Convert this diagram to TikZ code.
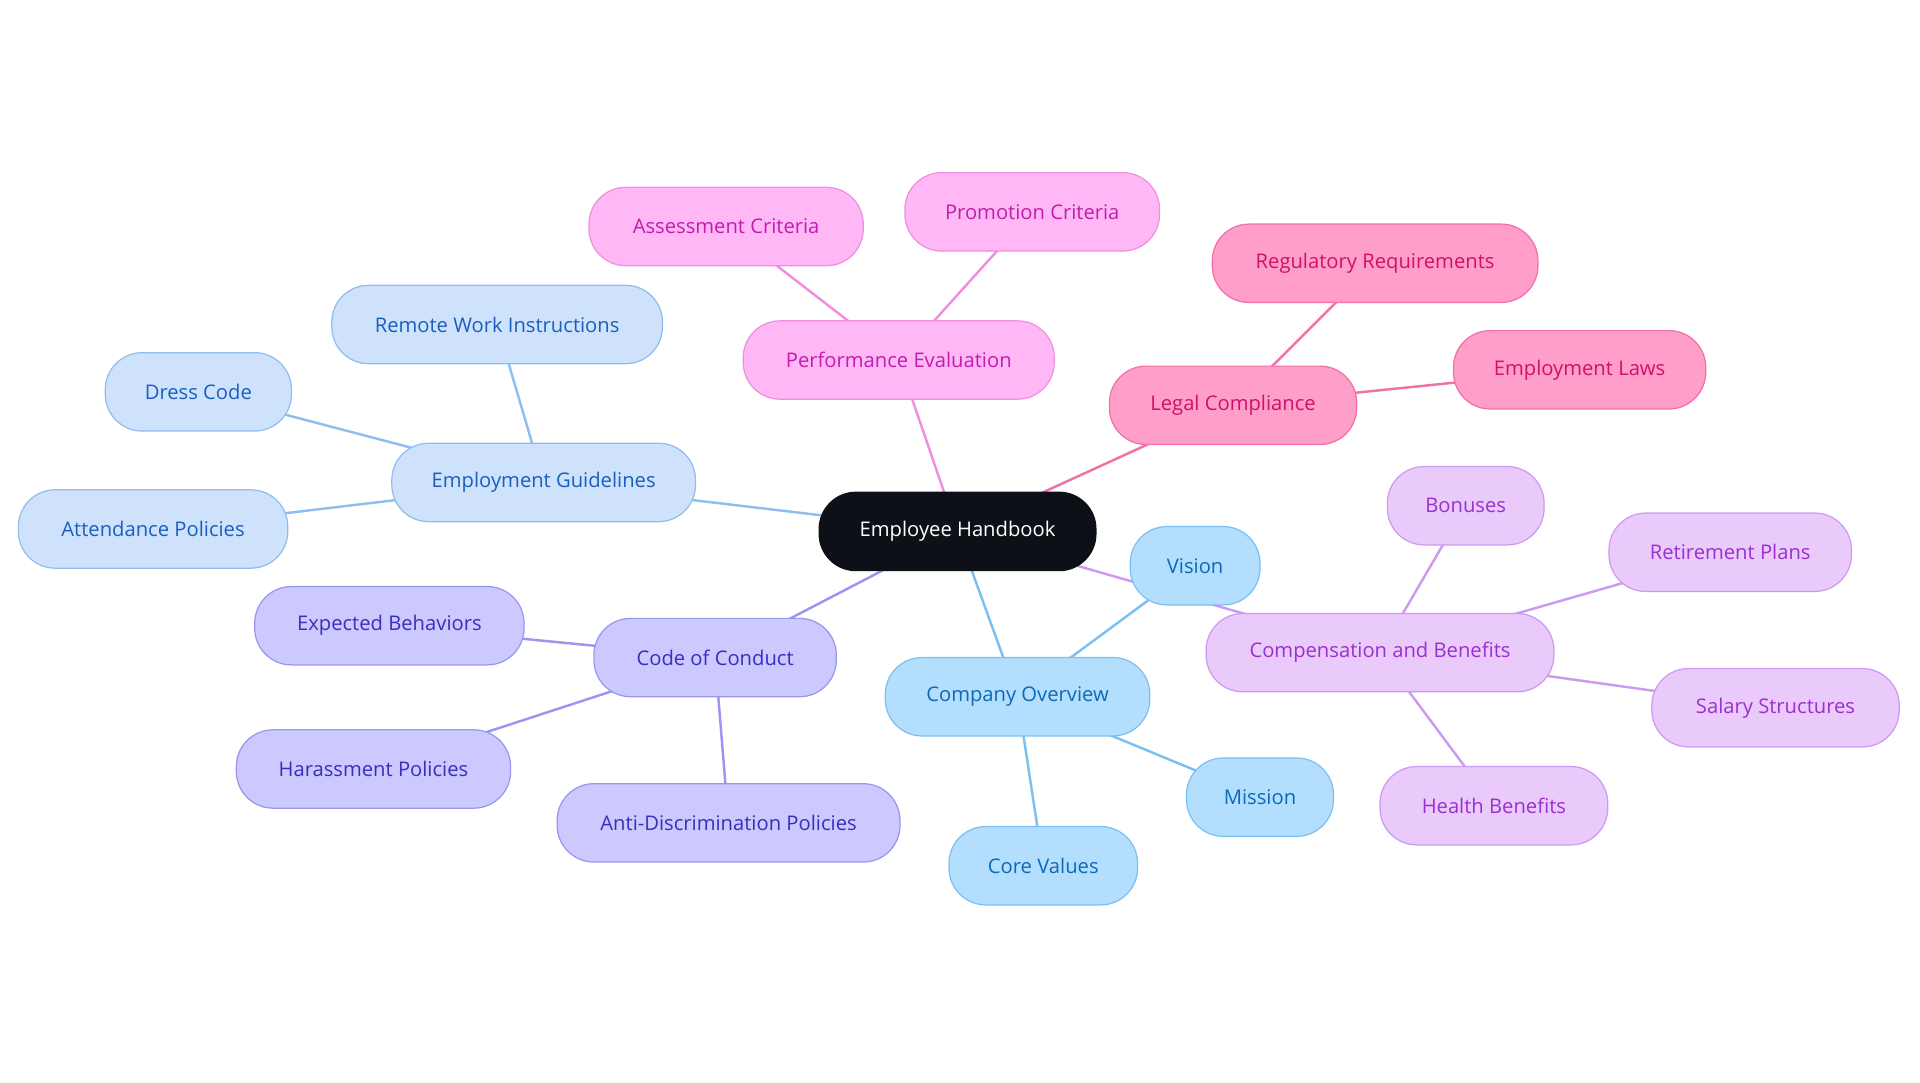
\documentclass[tikz,border=0pt]{standalone}
\usepackage{fontspec}
\setmainfont{Open Sans}
\usetikzlibrary{backgrounds}
\definecolor{rootc}{HTML}{0D1117}
\definecolor{bF}{HTML}{CFE2FB}\definecolor{bD}{HTML}{90BDF0}\definecolor{bT}{HTML}{1A5FC0}
\definecolor{pF}{HTML}{FFB8F5}\definecolor{pD}{HTML}{F08EE0}\definecolor{pT}{HTML}{C21CB0}
\definecolor{rF}{HTML}{FF9EC8}\definecolor{rD}{HTML}{F070A8}\definecolor{rT}{HTML}{D0106A}
\definecolor{vF}{HTML}{CBC9FD}\definecolor{vD}{HTML}{9A95F0}\definecolor{vT}{HTML}{3A2DC0}
\definecolor{cF}{HTML}{B3DEFD}\definecolor{cD}{HTML}{7CC0F0}\definecolor{cT}{HTML}{0C6AB8}
\definecolor{lF}{HTML}{E9CAFB}\definecolor{lD}{HTML}{CC9AF0}\definecolor{lT}{HTML}{9A30D0}
\tikzset{
 box/.style={rounded corners=30pt,minimum height=64pt,inner xsep=0pt,font=\fontsize{16.5}{20}\selectfont,line width=1pt},
 bx/.style={box,fill=bF,draw=bD,text=bT},
 px/.style={box,fill=pF,draw=pD,text=pT},
 rx/.style={box,fill=rF,draw=rD,text=rT},
 vx/.style={box,fill=vF,draw=vD,text=vT},
 cx/.style={box,fill=cF,draw=cD,text=cT},
 lx/.style={box,fill=lF,draw=lD,text=lT},
 e/.style={line width=2pt}
}
\begin{document}
\begin{tikzpicture}[x=1pt,y=-1pt]
\useasboundingbox (0,0) rectangle (1568,884);
\node[box,fill=rootc,draw=rootc,text=white,minimum width=226pt] (root) at (782,434) {Employee Handbook};
\node[bx,minimum width=248pt] (eg) at (444,394) {Employment Guidelines};
\node[bx,minimum width=270pt] (rw) at (406,265) {Remote Work Instructions};
\node[bx,minimum width=152pt] (dc) at (162,320) {Dress Code};
\node[bx,minimum width=220pt] (ap) at (125,432) {Attendance Policies};
\node[px,minimum width=254pt] (pe) at (734,294) {Performance Evaluation};
\node[px,minimum width=224pt] (ac) at (593,185) {Assessment Criteria};
\node[px,minimum width=208pt] (pc) at (843,173) {Promotion Criteria};
\node[rx,minimum width=202pt] (lc) at (1007,331) {Legal Compliance};
\node[rx,minimum width=266pt] (rr) at (1123,215) {Regulatory Requirements};
\node[rx,minimum width=206pt] (el) at (1290,302) {Employment Laws};
\node[vx,minimum width=198pt] (cc) at (584,537) {Code of Conduct};
\node[vx,minimum width=220pt] (eb) at (318,511) {Expected Behaviors};
\node[vx,minimum width=224pt] (hp) at (305,628) {Harassment Policies};
\node[vx,minimum width=280pt] (ad) at (595,672) {Anti-Discrimination Policies};
\node[cx,minimum width=216pt] (co) at (831,569) {Company Overview};
\node[cx,minimum width=106pt] (vi) at (976,462) {Vision};
\node[cx,minimum width=120pt] (mi) at (1029,651) {Mission};
\node[cx,minimum width=154pt] (cv) at (852,707) {Core Values};
\node[lx,minimum width=284pt] (cb) at (1127,533) {Compensation and Benefits};
\node[lx,minimum width=128pt] (bo) at (1197,413) {Bonuses};
\node[lx,minimum width=198pt] (rp) at (1413,451) {Retirement Plans};
\node[lx,minimum width=202pt] (ss) at (1450,578) {Salary Structures};
\node[lx,minimum width=186pt] (hb) at (1220,658) {Health Benefits};
\begin{scope}[on background layer]
\draw[e,draw=bD] (root.center)--(eg.center) (eg.center)--(rw.center) (eg.center)--(dc.center) (eg.center)--(ap.center);
\draw[e,draw=pD] (root.center)--(pe.center) (pe.center)--(ac.center) (pe.center)--(pc.center);
\draw[e,draw=rD] (root.center)--(lc.center) (lc.center)--(rr.center) (lc.center)--(el.center);
\draw[e,draw=vD] (root.center)--(cc.center) (cc.center)--(eb.center) (cc.center)--(hp.center) (cc.center)--(ad.center);
\draw[e,draw=cD] (root.center)--(co.center) (co.center)--(vi.center) (co.center)--(mi.center) (co.center)--(cv.center);
\draw[e,draw=lD] (root.center)--(cb.center) (cb.center)--(bo.center) (cb.center)--(rp.center) (cb.center)--(ss.center) (cb.center)--(hb.center);
\end{scope}
\end{tikzpicture}
\end{document}
